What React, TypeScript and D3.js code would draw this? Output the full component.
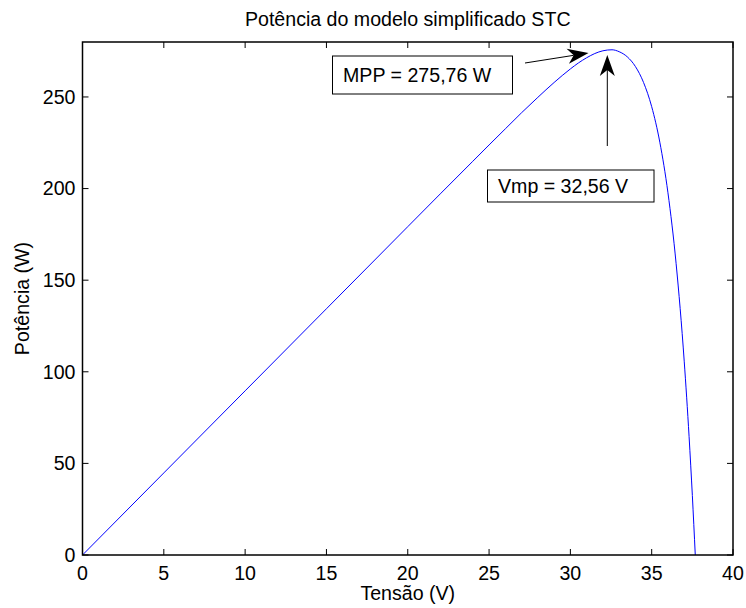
import React from "react";
import * as d3 from "d3";

// Data (Tensão V, Potência W)
const voltage = [0, 5, 10, 15, 20, 22, 24, 25, 26, 27, 28, 29, 30, 30.5, 31, 31.5, 32, 32.56, 33, 33.5, 34, 34.5, 35, 35.5, 36, 36.5, 37, 37.3, 37.5, 37.68];
const power = [0, 44.8, 89.6, 134.4, 179.2, 197.1, 214.9, 223.8, 232.6, 241.4, 249.8, 257.9, 265.3, 268.6, 271.4, 273.7, 275.2, 275.76, 274.7, 271.9, 266.6, 257.9, 244.7, 225.3, 197.7, 159.2, 105.8, 64.6, 32.5, 0];
const xTicks = [0, 5, 10, 15, 20, 25, 30, 35, 40];
const yTicks = [0, 50, 100, 150, 200, 250];
const titleText = "Potência do modelo simplificado STC";
const xLabel = "Tensão (V)";
const yLabel = "Potência (W)";
const mppLabel = "MPP = 275,76 W";
const vmpLabel = "Vmp = 32,56 V";

const W = 746;
const H = 608;
const L = 82.5, R = 733, T = 42, B = 555;
const FONT = "'Liberation Sans', Arial, Helvetica, sans-serif";
const FS = 19.6;

function Arrow({ x1, y1, x2, y2 }: { x1: number; y1: number; x2: number; y2: number }) {
  const dx = x2 - x1, dy = y2 - y1;
  const len = Math.hypot(dx, dy);
  const ux = dx / len, uy = dy / len;
  const px = -uy, py = ux;
  const hl = 21, hw = 7.5, notch = 6;
  const bx = x2 - ux * hl, by = y2 - uy * hl;
  const nx = x2 - ux * (hl - notch), ny = y2 - uy * (hl - notch);
  const pts = [
    [x2, y2],
    [bx + px * hw, by + py * hw],
    [nx, ny],
    [bx - px * hw, by - py * hw],
  ];
  return (
    <g>
      <line x1={x1} y1={y1} x2={nx} y2={ny} stroke="#000" strokeWidth={1} />
      <polygon points={pts.map((p) => p.join(",")).join(" ")} fill="#000" />
    </g>
  );
}

export default function App() {
  const x = d3.scaleLinear().domain([0, 40]).range([L, R]);
  const y = d3.scaleLinear().domain([0, 280]).range([B, T]);
  const pts: [number, number][] = voltage.map((v, i) => [v, power[i]]);
  const line = d3
    .line<[number, number]>()
    .x((d) => x(d[0]))
    .y((d) => y(d[1]))
    .curve(d3.curveMonotoneX);

  const tickLen = 6;
  return (
    <svg
      width={W}
      height={H}
      style={{ position: "absolute", left: 0, top: 0, background: "#fff" }}
      fontFamily={FONT}
    >
      <rect x={0} y={0} width={W} height={H} fill="#fff" />
      <defs>
        <clipPath id="plotclip">
          <rect x={L} y={T} width={R - L} height={B - T} />
        </clipPath>
      </defs>
      <path d={line(pts) || ""} fill="none" stroke="#0000ff" strokeWidth={1} clipPath="url(#plotclip)" />
      {xTicks.map((t) => (
        <g key={"x" + t}>
          <line x1={x(t)} x2={x(t)} y1={B} y2={B - tickLen} stroke="#000" />
          <line x1={x(t)} x2={x(t)} y1={T} y2={T + tickLen} stroke="#000" />
          <text x={x(t)} y={B + 25} textAnchor="middle" fontSize={FS} fill="#000">
            {t}
          </text>
        </g>
      ))}
      {yTicks.map((t) => (
        <g key={"y" + t}>
          <line x1={L} x2={L + tickLen} y1={y(t)} y2={y(t)} stroke="#000" />
          <line x1={R} x2={R - tickLen} y1={y(t)} y2={y(t)} stroke="#000" />
          <text x={L - 7} y={y(t)} dy="0.35em" textAnchor="end" fontSize={FS} fill="#000">
            {t}
          </text>
        </g>
      ))}
      <rect x={L} y={T} width={R - L} height={B - T} fill="none" stroke="#000" strokeWidth={1.5} />
      <text x={(L + R) / 2} y={26} textAnchor="middle" fontSize={FS} fill="#000">
        {titleText}
      </text>
      <text x={(L + R) / 2} y={600} textAnchor="middle" fontSize={FS} fill="#000">
        {xLabel}
      </text>
      <text
        transform={`translate(29,${(T + B) / 2}) rotate(-90)`}
        textAnchor="middle"
        fontSize={FS}
        fill="#000"
      >
        {yLabel}
      </text>
      <rect x={332.5} y={56} width={180} height={38} fill="#fff" stroke="#000" strokeWidth={1} />
      <text x={343} y={82} fontSize={FS} fill="#000">
        {mppLabel}
      </text>
      <Arrow x1={525} y1={63} x2={588.5} y2={53} />
      <rect x={487.5} y={170} width={166.5} height={32} fill="#fff" stroke="#000" strokeWidth={1} />
      <text x={498} y={193} fontSize={FS} fill="#000">
        {vmpLabel}
      </text>
      <Arrow x1={607.3} y1={146} x2={607.3} y2={55} />
    </svg>
  );
}
